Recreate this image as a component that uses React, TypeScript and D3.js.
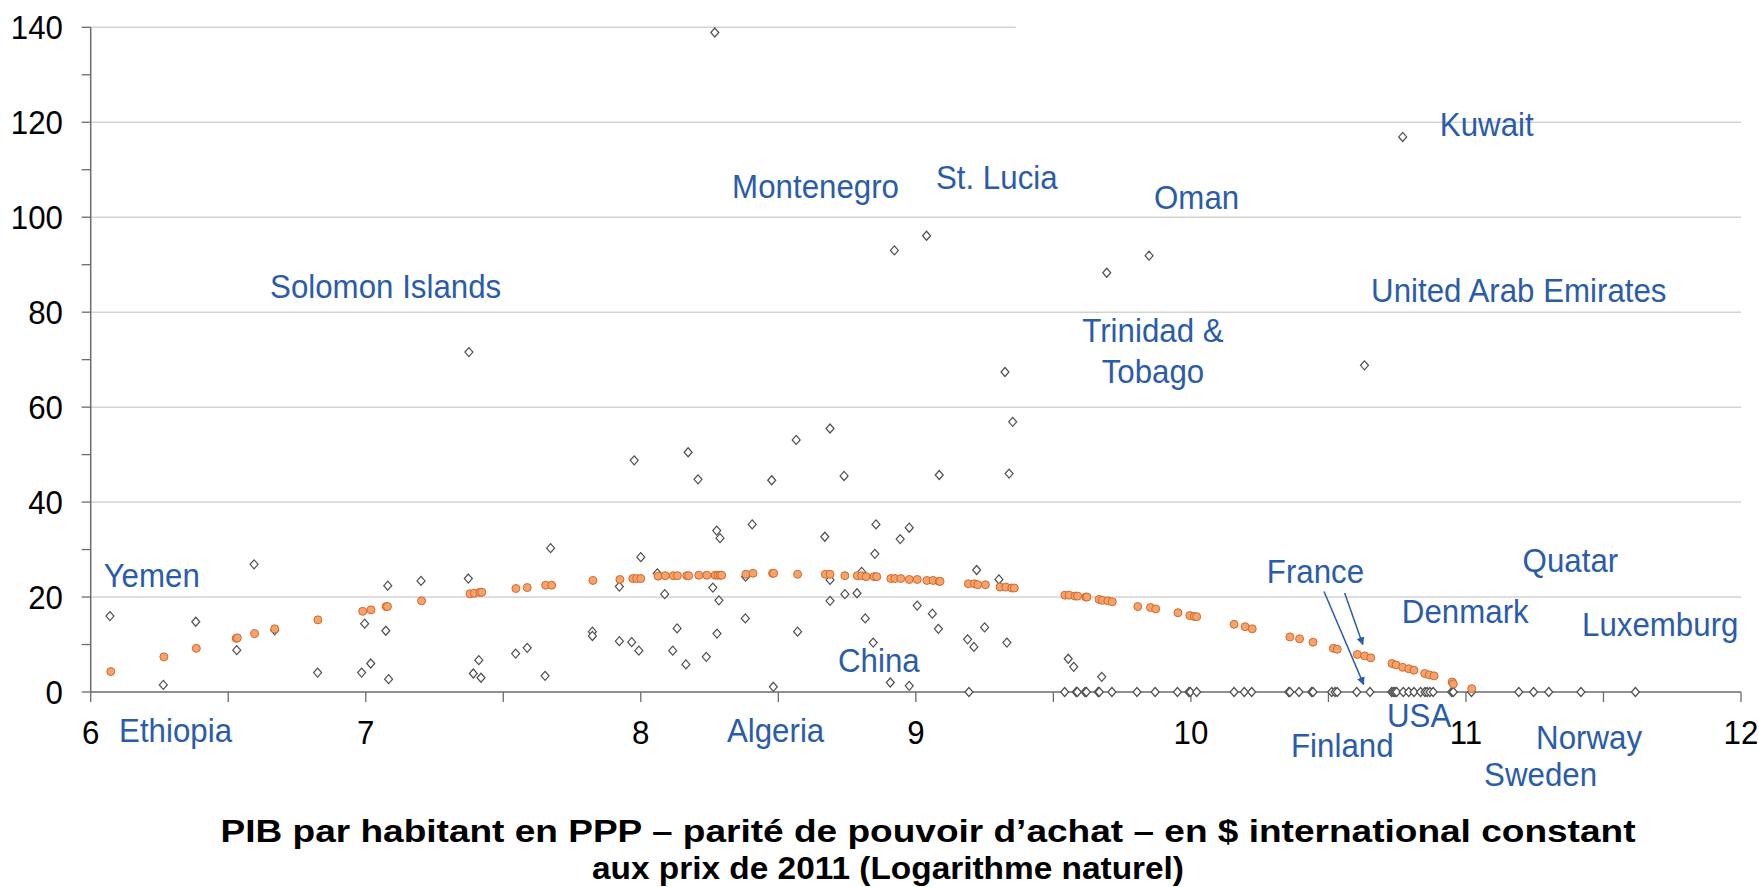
import React from 'react';
import * as d3 from 'd3';

// axis ticks
const xTickValues = [6, 7, 8, 9, 10, 11, 12];
const yTickValues = [0, 20, 40, 60, 80, 100, 120, 140];

// orange circles: fitted curve
const fitX = [6.073, 6.266, 6.384, 6.529, 6.533, 6.596, 6.669, 6.826, 6.989, 7.019, 7.074, 7.079, 7.203,
  7.379, 7.395, 7.415, 7.422, 7.546, 7.587, 7.654, 7.676, 7.826, 7.924, 7.971, 7.985, 8.0,
  8.063, 8.089, 8.118, 8.133, 8.167, 8.174, 8.211, 8.24, 8.27, 8.28, 8.288, 8.294, 8.382, 8.408,
  8.479, 8.483, 8.57, 8.671, 8.688, 8.742, 8.787, 8.803, 8.819, 8.848, 8.858, 8.909, 8.924, 8.945,
  8.976, 9.005, 9.04, 9.063, 9.085, 9.088, 9.191, 9.213, 9.225, 9.253, 9.306, 9.327, 9.349, 9.358,
  9.542, 9.557, 9.579, 9.588, 9.618, 9.622, 9.666, 9.678, 9.698, 9.714, 9.807, 9.853, 9.872, 9.953,
  9.996, 10.012, 10.021, 10.157, 10.197, 10.223, 10.36, 10.395, 10.444, 10.518, 10.532, 10.605,
  10.632, 10.654, 10.731, 10.746, 10.77, 10.792, 10.811, 10.85, 10.867, 10.884, 10.95, 10.954, 11.021];
const fitY = [4.3, 7.4, 9.2, 11.3, 11.4, 12.3, 13.3, 15.2, 17.0, 17.3, 18.0, 18.0, 19.2,
  20.7, 20.8, 21.0, 21.0, 21.8, 22.0, 22.5, 22.5, 23.5, 23.7, 23.9, 23.9, 23.9,
  24.4, 24.5, 24.5, 24.5, 24.5, 24.5, 24.6, 24.6, 24.6, 24.6, 24.6, 24.6, 24.8, 25.0,
  25.0, 25.0, 24.8, 24.8, 24.8, 24.5, 24.5, 24.5, 24.3, 24.3, 24.3, 23.9, 23.9, 23.9,
  23.7, 23.7, 23.5, 23.5, 23.3, 23.3, 22.8, 22.8, 22.6, 22.6, 22.1, 22.1, 21.9, 21.9,
  20.4, 20.4, 20.2, 20.2, 20.0, 20.0, 19.5, 19.3, 19.2, 19.0, 18.0, 17.8, 17.5, 16.7,
  16.1, 15.9, 15.85, 14.25, 13.75, 13.3, 11.6, 11.2, 10.5, 9.2, 9.0, 7.9,
  7.6, 7.2, 6.0, 5.7, 5.2, 4.9, 4.6, 3.9, 3.6, 3.4, 2.1, 1.7, 0.7];

// hollow diamonds: countries
const countryX = [6.07, 6.264, 6.382, 6.531, 6.594, 6.669, 6.825, 6.996, 6.985, 7.018, 7.08, 7.073, 7.083,
  7.201, 7.373, 7.375, 7.411, 7.391, 7.419, 7.545, 7.587, 7.652, 7.672, 7.824, 7.824, 7.922, 7.922,
  7.967, 7.993, 7.976, 8.0, 8.06, 8.087, 8.116, 8.132, 8.164, 8.172, 8.208, 8.238, 8.262, 8.269,
  8.276, 8.288, 8.284, 8.277, 8.381, 8.38, 8.405, 8.482, 8.476, 8.565, 8.57, 8.688, 8.669, 8.688,
  8.688, 8.739, 8.742, 8.786, 8.803, 8.816, 8.845, 8.851, 8.855, 8.907, 8.922, 8.943, 8.976, 8.976,
  9.005, 9.039, 9.06, 9.082, 9.085, 9.188, 9.211, 9.193, 9.221, 9.25, 9.302, 9.324, 9.331, 9.339,
  9.352, 9.554, 9.574, 9.676, 9.694, 9.848, 10.631, 10.77,
  9.541, 9.583, 9.587, 9.615, 9.62, 9.663, 9.667, 9.713, 9.804, 9.87, 9.951, 9.993, 9.998, 10.021,
  10.157, 10.194, 10.221, 10.356, 10.36, 10.393, 10.439, 10.444, 10.512, 10.524, 10.532, 10.603,
  10.651, 10.73, 10.736, 10.742, 10.748, 10.772, 10.792, 10.811, 10.835, 10.851, 10.859, 10.869,
  10.881, 10.948, 10.954, 11.02, 11.192, 11.246, 11.301, 11.418, 11.616];
const countryY = [16.0, 1.5, 14.8, 8.8, 26.9, 13.0, 4.1, 14.4, 4.1, 6.0, 22.4, 12.9, 2.7,
  23.4, 23.9, 71.6, 6.7, 3.9, 3.0, 8.1, 9.3, 3.4, 30.3, 12.7, 11.8, 22.2, 10.7,
  10.5, 8.7, 48.8, 28.4, 25.0, 20.6, 8.7, 13.4, 5.8, 50.5, 44.8, 7.4, 22.0, 138.9,
  34.0, 32.4, 19.3, 12.3, 24.3, 15.5, 35.3, 1.1, 44.6, 53.1, 12.7, 55.5, 32.7, 23.6,
  19.2, 45.5, 20.6, 20.8, 25.3, 15.5, 10.4, 29.1, 35.3, 2.0, 93.0, 32.2, 34.6, 1.3,
  18.2, 96.1, 16.5, 13.3, 45.7, 11.1, 9.5, 0, 25.7, 13.6, 23.7, 67.4, 10.4, 46.0,
  56.9, 7.0, 5.3, 3.2, 88.3, 91.9, 68.8, 116.9,
  0, 0, 0, 0, 0, 0, 0, 0, 0, 0, 0, 0, 0, 0,
  0, 0, 0, 0, 0, 0, 0, 0, 0, 0, 0, 0,
  0, 0, 0, 0, 0, 0, 0, 0, 0, 0, 0, 0,
  0, 0, 0, 0, 0, 0, 0, 0, 0];

// country names written on the chart
const labelNames = ['Solomon Islands', 'Montenegro', 'St. Lucia', 'Oman', 'Kuwait', 'United Arab Emirates',
  'Yemen', 'Ethiopia', 'Algeria', 'China', 'France', 'Quatar', 'Denmark', 'Luxemburg', 'USA',
  'Finland', 'Norway', 'Sweden'];
const labelAtX = [6.652, 8.332, 9.073, 9.866, 10.905, 10.655, 6.047, 6.103, 8.313, 8.717, 10.276,
  11.206, 10.767, 11.422, 10.713, 10.364, 11.255, 11.066];
const labelAtY = [82.9, 104.0, 106.0, 101.8, 117.05, 82.2, 22.1, -10.6, -10.5, 4.27, 23.0, 25.2,
  14.6, 11.8, -7.3, -13.7, -12.0, -19.9];

const W = 1759;
const H = 887;
const BLUE = '#2b5ca9';
const FONT = '"Liberation Sans", Arial, sans-serif';

const App = () => {
  const x = d3.scaleLinear().domain([6, 12]).range([90.7, 1741]);
  const y = d3.scaleLinear().domain([0, 140]).range([692, 27.3]);

  const xSmall = d3.range(6, 12.01, 0.5);
  const ySmall = d3.range(0, 141, 10);
  const diamond = 'M0,-4.5L4,0L0,4.5L-4,0Z';

  // the top grid line stops short in the original (text box over it)
  const gridEnd = (v: number) => (v === 140 ? x(9.363) : x(12));

  const arrows = [
    [10.484, 21.16, 10.628, 1.6],
    [10.559, 20.84, 10.625, 10.0],
  ];

  return (
    <div style={{ position: 'absolute', left: 0, top: 0 }}>
      <svg width={W} height={H} style={{ display: 'block', background: '#fff' }} fontFamily={FONT}>
        <defs>
          <marker id="arr" viewBox="0 0 10 10" refX="9" refY="5" markerWidth="8" markerHeight="11"
            markerUnits="userSpaceOnUse" orient="auto">
            <path d="M0,0L10,5L0,10Z" fill={BLUE} />
          </marker>
        </defs>

        {yTickValues.filter(v => v > 0).map(v => (
          <line key={'g' + v} x1={x(6)} x2={gridEnd(v)} y1={y(v)} y2={y(v)} stroke="#d3d3d3" strokeWidth={1.5} />
        ))}

        {/* axes */}
        <line x1={x(6)} x2={x(6)} y1={y(0)} y2={y(140)} stroke="#6b6b6b" strokeWidth={1.5} />
        <line x1={x(6)} x2={x(12)} y1={y(0)} y2={y(0)} stroke="#6b6b6b" strokeWidth={1.5} />
        {ySmall.map(v => (
          <line key={'yt' + v} x1={x(6) - 9} x2={x(6)} y1={y(v)} y2={y(v)} stroke="#6b6b6b" strokeWidth={1.3} />
        ))}
        {xSmall.map(v => (
          <line key={'xt' + v} x1={x(v)} x2={x(v)} y1={y(0)} y2={y(0) + 10} stroke="#6b6b6b" strokeWidth={1.3} />
        ))}

        {yTickValues.map(v => (
          <text key={'yl' + v} transform={`translate(63,${y(v) + 12}) scale(0.92,1)`} textAnchor="end"
            fontSize={34} fill="#000">{v}</text>
        ))}
        {xTickValues.map(v => (
          <text key={'xl' + v} transform={`translate(${x(v)},${y(0) + 52}) scale(0.92,1)`} textAnchor="middle"
            fontSize={34} fill="#000">{v}</text>
        ))}

        {/* countries */}
        {countryX.map((cx, i) => (
          <path key={'d' + i} d={diamond} transform={`translate(${x(cx)},${y(countryY[i])})`}
            fill="#fff" stroke="#4f4f4f" strokeWidth={1.2} />
        ))}

        {/* fitted curve */}
        {fitX.map((fx, i) => (
          <circle key={'c' + i} cx={x(fx)} cy={y(fitY[i])} r={4} fill="#f3a46c" stroke="#d7682a" strokeWidth={1} />
        ))}

        {labelNames.map((name, i) => (
          <text key={'n' + i} transform={`translate(${x(labelAtX[i])},${y(labelAtY[i])}) scale(0.92,1)`}
            fontSize={34} fill={BLUE}>{name}</text>
        ))}
        <text transform={`translate(${x(9.862)},${y(73.7)}) scale(0.92,1)`} textAnchor="middle"
          fontSize={34} fill={BLUE}>Trinidad &amp;</text>
        <text transform={`translate(${x(9.862)},${y(65.05)}) scale(0.92,1)`} textAnchor="middle"
          fontSize={34} fill={BLUE}>Tobago</text>

        {arrows.map((a, i) => (
          <line key={'a' + i} x1={x(a[0])} y1={y(a[1])} x2={x(a[2])} y2={y(a[3])}
            stroke={BLUE} strokeWidth={1.5} markerEnd="url(#arr)" />
        ))}

        <text x={928} y={842} textAnchor="middle" fontSize={31} fontWeight="bold" fill="#000"
          textLength={1415} lengthAdjust="spacingAndGlyphs">
          PIB par habitant en PPP – parité de pouvoir d’achat – en $ international constant
        </text>
        <text x={888} y={879} textAnchor="middle" fontSize={31} fontWeight="bold" fill="#000"
          textLength={592} lengthAdjust="spacingAndGlyphs">
          aux prix de 2011 (Logarithme naturel)
        </text>
      </svg>
    </div>
  );
};

export default App;
